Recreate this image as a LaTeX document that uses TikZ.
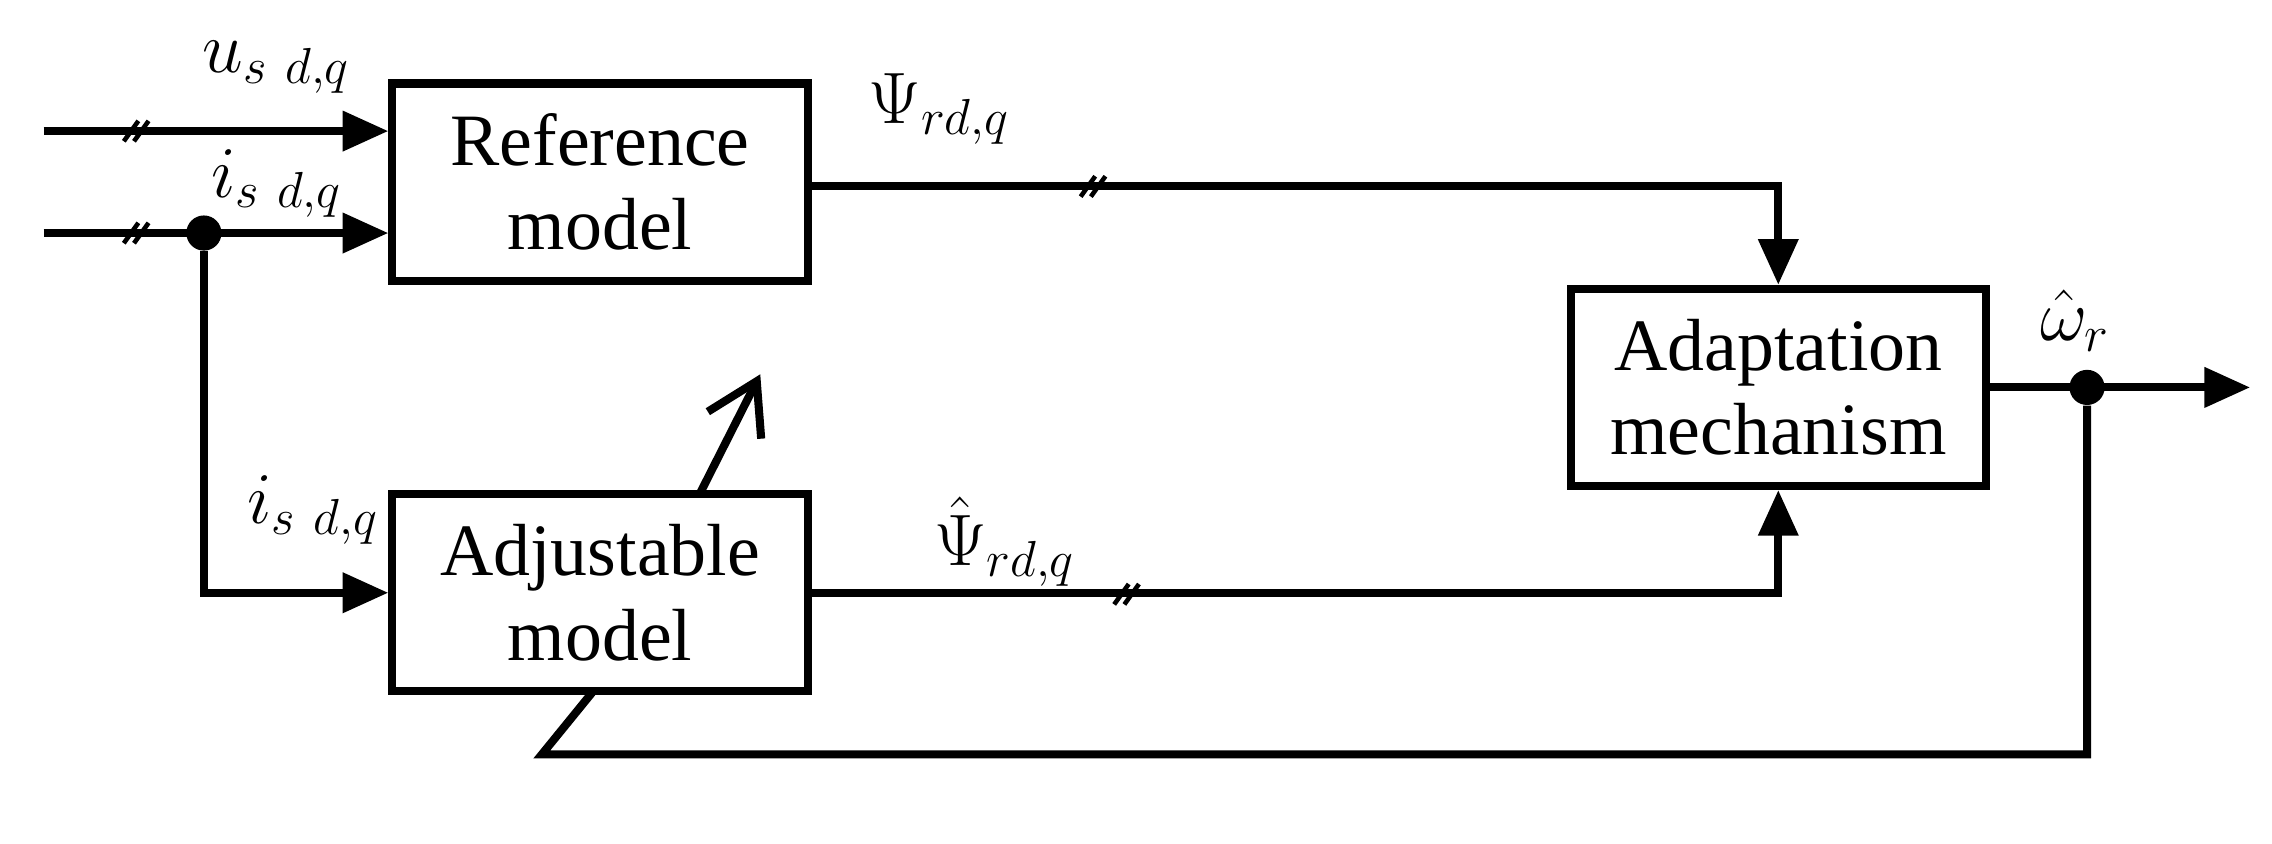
\documentclass[tikz,border=0pt]{standalone}
\usepackage{fontspec}
\setmainfont{Liberation Serif}
\usetikzlibrary{arrows.meta}
\begin{document}
\begin{tikzpicture}[x=0.01456cm,y=-0.01456cm,
 box/.style={draw,line width=2.3pt,minimum width=4.15cm,minimum height=1.97cm,align=center,font=\fontsize{21}{24}\selectfont},
 ln/.style={line width=2.3pt},
 arr/.style={ln,-{Triangle[length=13pt,width=11pt]}},
 lab/.style={font=\fontsize{21}{24}\selectfont},
 dot/.style={circle,fill,inner sep=0pt,minimum size=10pt}]
\useasboundingbox (0,0) rectangle (1560,579);
\node[box] (ref) at (412,125) {Reference\\model};
\node[box] (adj) at (412,407) {Adjustable\\model};
\node[box] (ad) at (1221,266) {Adaptation\\mechanism};
\coordinate (u0) at (30,90);
\coordinate (i0) at (30,160);
\node[dot] (d1) at (140,160) {};
\node[dot] (d2) at (1433,266) {};
\coordinate (out) at (1545,266);
\draw[arr] (u0) -- (ref.west |- u0);
\draw[arr] (i0) -- (ref.west |- i0);
\draw[arr] (d1) |- (adj.west);
\draw[arr] (ref.east |- 0,128) -| (ad.north);
\draw[arr] (adj.east) -| (ad.south);
\draw[arr] (ad.east) -- (out);
\coordinate (fb1) at (1433,518);
\coordinate (fb2) at (372,518);
\coordinate (fb3) at (407,475);
\draw[ln] (d2) -- (fb1) -- (fb2) -- (fb3);
\coordinate (da) at (480,340);
\coordinate (db) at (522,257);
\draw[ln,-{Straight Barb[length=14pt,width=17pt]}] (da) -- (db);
% slashes
\foreach \x/\y in {95/90,95/160,752/128,775/408}{
 \draw[line width=1.3pt] (\x-10,\y+7) -- (\x,\y-7);
 \draw[line width=1.3pt] (\x-3,\y+7) -- (\x+7,\y-7);}
\node[lab] (lu) at (190,46) {$u_{s\ d,q}$};
\node[lab] (li) at (190,126) {$i_{s\ d,q}$};
\node[lab] (li2) at (215,350) {$i_{s\ d,q}$};
\node[lab] (lp) at (645,75) {$\Psi_{rd,q}$};
\node[lab] (lph) at (690,372) {$\hat{\Psi}_{rd,q}$};
\node[lab] (lw) at (1425,220) {$\hat{\omega}_r$};
\end{tikzpicture}
\end{document}
